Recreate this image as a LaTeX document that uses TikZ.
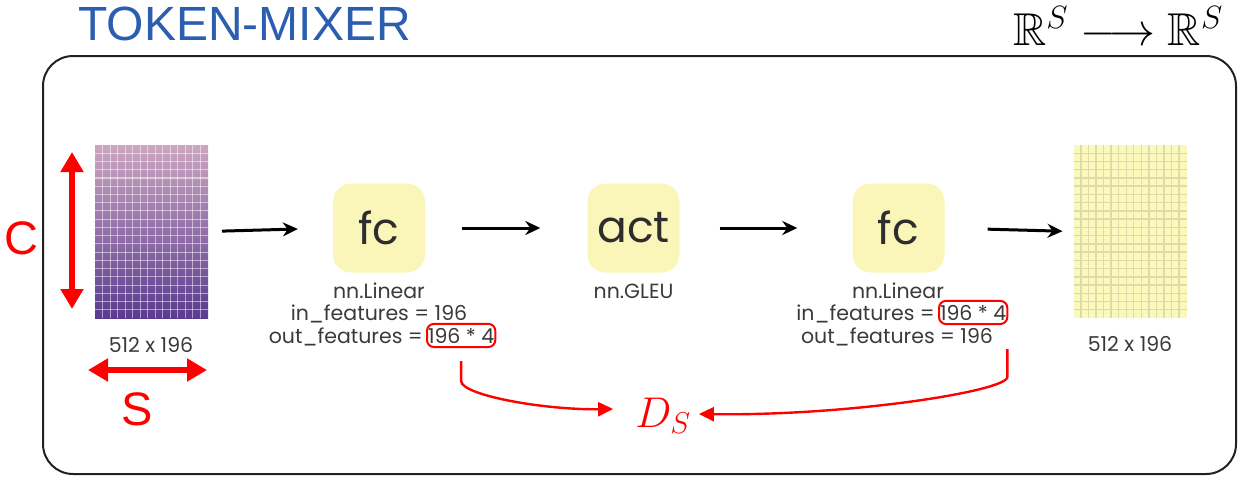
\RequirePackage{fix-cm}
\documentclass[tikz,border=0pt]{standalone}
\usepackage{fontspec}
\usepackage{amssymb}
\usetikzlibrary{arrows.meta}
\setmainfont{Liberation Sans}
\newfontfamily\roundfont{Poppins}

\definecolor{titleblue}{RGB}{44,94,176}
\definecolor{frameline}{RGB}{34,34,34}
\definecolor{boxfill}{RGB}{250,246,185}
\definecolor{labelgray}{RGB}{58,58,58}
\definecolor{optext}{RGB}{45,45,45}
\definecolor{gridtop}{RGB}{204,166,192}
\definecolor{gridbot}{RGB}{90,58,144}
\definecolor{outfill}{RGB}{251,248,188}
\definecolor{outline}{RGB}{222,218,172}

\tikzset{
  frame/.style={draw=frameline, line width=2pt, rounded corners=30pt},
  tensor/.style={minimum width=113pt, minimum height=173pt, inner sep=0pt, outer sep=0pt},
  opbox/.style={fill=boxfill, rounded corners=18pt, minimum width=92pt, minimum height=89pt,
    inner sep=0pt, text=optext, font=\roundfont\fontsize{44}{48}\selectfont},
  lbl/.style={inner sep=0pt, text=labelgray, font=\roundfont\fontsize{20.5}{24}\selectfont},
  hl/.style={draw=red, line width=2pt, rounded corners=7pt, inner xsep=1pt, inner ysep=4pt,
    text=labelgray, font=\roundfont\fontsize{20.5}{24}\selectfont},
  flow/.style={line width=3pt, -{Stealth[length=15pt,width=14pt]}},
  dimarrow/.style={red, line width=6pt, {Triangle[length=20pt,width=22pt]}-{Triangle[length=20pt,width=22pt]}},
  dimlabel/.style={red, inner sep=0pt, font=\fontsize{47}{50}\selectfont},
  link/.style={red, line width=2.4pt, -{Triangle[length=15pt,width=14pt]}},
}

\begin{document}
\begin{tikzpicture}[x=1pt,y=-1pt]
\useasboundingbox (0,0) rectangle (1238,477);

% title and mapping
\node[inner sep=0pt, anchor=base west, text=titleblue, font=\fontsize{48}{52}\selectfont] (title) at (78,40) {TOKEN-MIXER};
\node[inner sep=0pt, anchor=base, font=\fontsize{46}{50}\selectfont] (map) at (1118,45) {$\mathbb{R}^S \longrightarrow \mathbb{R}^S$};

% outer frame
\draw[frame] (43,56) rectangle (1236,474);

% input tensor
\node[tensor] (inp) at (151.5,231.5) {};
\shade[top color=gridtop, bottom color=gridbot] (inp.north west) rectangle (inp.south east);
\foreach \i in {1,...,14}
  \draw[white, opacity=.5, line width=1.1pt] ({95+\i*113/15},145) -- ({95+\i*113/15},318);
\foreach \j in {1,...,20}
  \draw[white, opacity=.5, line width=1.1pt] (95,{145+\j*173/21}) -- (208,{145+\j*173/21});
\node[lbl, anchor=base] (inpdim) at (151,352) {512 x 196};

% output tensor
\node[tensor] (outp) at (1130,231.5) {};
\fill[outfill] (outp.north west) rectangle (outp.south east);
\foreach \i in {1,...,14}
  \draw[outline, line width=1.4pt] ({1073.5+\i*113/15},145) -- ({1073.5+\i*113/15},318);
\foreach \j in {1,...,20}
  \draw[outline, line width=1.4pt] (1073.5,{145+\j*173/21}) -- (1186.5,{145+\j*173/21});
\node[lbl, anchor=base] (outdim) at (1130,351) {512 x 196};

% dimension arrows
\coordinate (ctop) at (72,152);
\coordinate (cbot) at (72,309);
\draw[dimarrow] (ctop) -- (cbot);
\node[dimlabel] (clab) at (21,238) {C};
\coordinate (sleft) at (88,370);
\coordinate (sright) at (207,370);
\draw[dimarrow] (sleft) -- (sright);
\node[dimlabel] (slab) at (137,409) {S};

% operators
\node[opbox] (fc1) at (379,228) {fc};
\node[opbox] (act) at (633.5,228) {act};
\node[opbox] (fc2) at (898.5,228) {fc};

\node[lbl, anchor=base] (lin1) at (379,298) {nn.Linear};
\node[lbl, anchor=base] (in1) at (379,320) {in\_features = 196};
\node[lbl, anchor=base east] (out1) at (423,343) {out\_features =};
\node[hl, anchor=base west] (h1) at ([xshift=3pt]out1.base east) {196 * 4};

\node[lbl, anchor=base] (gleu) at (633.5,298) {nn.GLEU};

\node[lbl, anchor=base] (lin2) at (898,298) {nn.Linear};
\node[lbl, anchor=base east] (in2) at (935,320) {in\_features =};
\node[hl, anchor=base west] (h2) at ([xshift=3pt]in2.base east) {196 * 4};
\node[lbl, anchor=base] (out2) at (897,343) {out\_features = 196};

% data flow
\draw[flow, shorten <=14pt, shorten >=35pt] (inp.east) -- (fc1.west);
\draw[flow, shorten <=37pt, shorten >=47pt] (fc1.east) -- (act.west);
\draw[flow, shorten <=40pt, shorten >=55pt] (act.east) -- (fc2.west);
\draw[flow, shorten <=43pt, shorten >=11pt] (fc2.east) -- (outp.west);

% hidden width
\node[red, inner sep=0pt, font=\fontsize{43}{47}\selectfont] (ds) at (663,416) {$D_S$};
\draw[link] ([yshift=-13pt]h1.south) -- ++(0,20) .. controls +(0,14) and +(-70,1) .. ([xshift=-22pt,yshift=7pt]ds.west);
\draw[link] ([xshift=-1pt,yshift=-24pt]h2.south east) -- ++(0,28) .. controls +(0,14) and +(150,2) .. ([xshift=8pt,yshift=2pt]ds.east);
\end{tikzpicture}
\end{document}
